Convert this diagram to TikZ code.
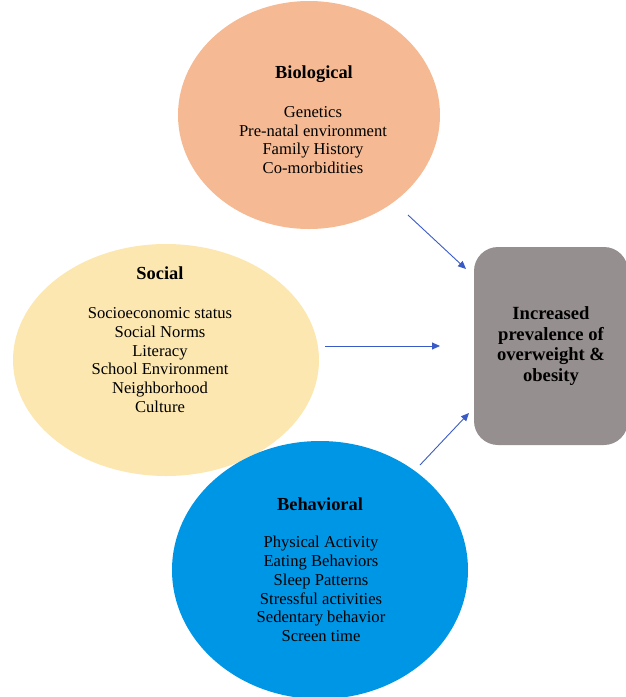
\documentclass[tikz,border=0pt]{standalone}
\usepackage{fontspec}
\setmainfont{Liberation Serif}
\usetikzlibrary{arrows.meta,shapes.geometric,positioning}
\definecolor{bioorange}{RGB}{245,186,147}
\definecolor{socyellow}{RGB}{252,231,176}
\definecolor{behblue}{RGB}{0,150,230}
\definecolor{outgray}{RGB}{150,143,143}
\definecolor{arrblue}{RGB}{58,90,200}
\tikzset{blob/.style={ellipse,inner sep=0pt},
  head/.style={font=\fontsize{18.4}{21}\selectfont\bfseries},
  items/.style={align=center,font=\fontsize{16.6}{18.7}\selectfont},
  outcome/.style={draw=none,fill=outgray,rounded corners=24pt,minimum width=154pt,minimum height=198pt,
    align=center,font=\fontsize{18.6}{20.6}\selectfont\bfseries},
  arr/.style={-{Triangle[length=8pt,width=7pt]},arrblue,line width=0.9pt}}
\begin{document}
\begin{tikzpicture}[x=1pt,y=-1pt]
\useasboundingbox (0,0) rectangle (625,697);
% the three groups of factors
\node[blob,fill=bioorange,minimum width=262pt,minimum height=228pt] (bio) at (309,115) {};
\node[blob,fill=socyellow,minimum width=306pt,minimum height=232pt] (soc) at (166,360) {};
\node[blob,fill=behblue,minimum width=296pt,minimum height=258pt] (beh) at (320,570) {};
\node[head] (biot) at (314,74) {Biological};
\node[items] (bioi) at (313,140) {Genetics\\Pre-natal environment\\Family History\\Co-morbidities};
\node[head] (soct) at (160,273) {Social};
\node[items] (soci) at (160,360) {Socioeconomic status\\Social Norms\\Literacy\\School Environment\\Neighborhood\\Culture};
\node[head] (beht) at (320,504) {Behavioral};
\node[items] (behi) at (321,589) {Physical Activity\\Eating Behaviors\\Sleep Patterns\\Stressful activities\\Sedentary behavior\\Screen time};
% outcome box
\node[outcome] (out) at (551,346) {Increased\\prevalence of\\overweight \&\\obesity};
% arrows
\coordinate (a1) at (408,215);
\coordinate (b1) at (466,269);
\coordinate (a2) at (325,346);
\coordinate (b2) at (440,346);
\coordinate (a3) at (420,465);
\coordinate (b3) at (469,413);
\draw[arr] (a1) -- (b1);
\draw[arr] (a2) -- (b2);
\draw[arr] (a3) -- (b3);
\end{tikzpicture}
\end{document}
